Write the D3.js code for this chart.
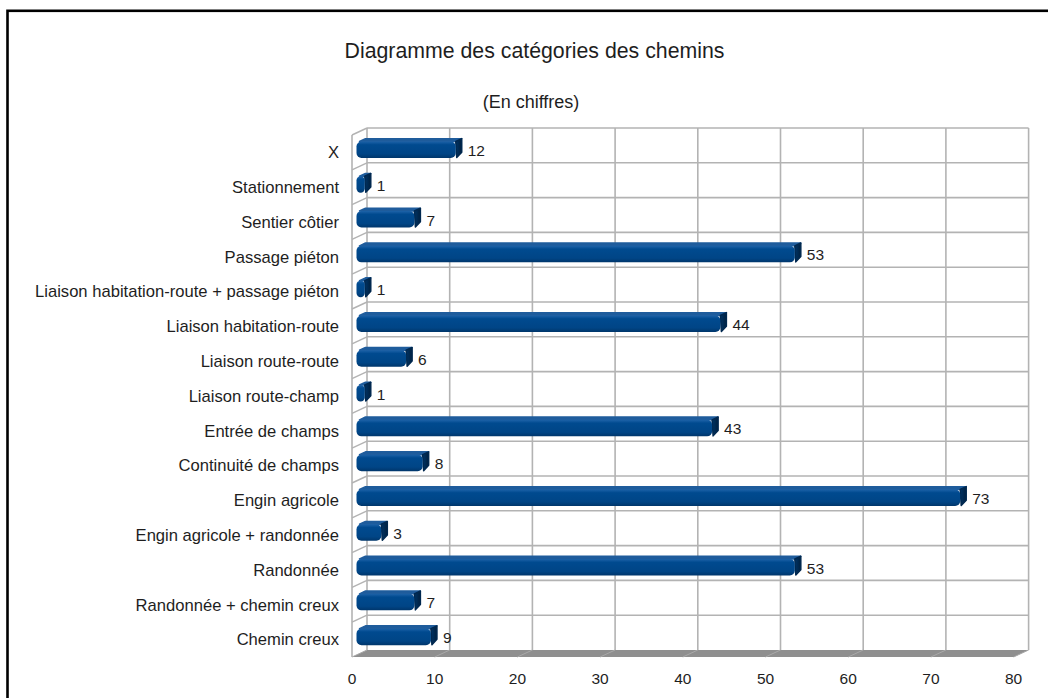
<!DOCTYPE html>
<html>
<head>
<meta charset="utf-8">
<script src="https://cdn.jsdelivr.net/npm/d3@7"></script>
<style>
  body { margin: 0; background: #fff; }
  text { font-family: 'Liberation Sans', Arial, sans-serif; fill: #1e1e1e; }
</style>
</head>
<body>
<svg id="chart"></svg>
<script>
// chart data
const categories = [
  'X',
  'Stationnement',
  'Sentier côtier',
  'Passage piéton',
  'Liaison habitation-route + passage piéton',
  'Liaison habitation-route',
  'Liaison route-route',
  'Liaison route-champ',
  'Entrée de champs',
  'Continuité de champs',
  'Engin agricole',
  'Engin agricole + randonnée',
  'Randonnée',
  'Randonnée + chemin creux',
  'Chemin creux'
];
const counts = [12, 1, 7, 53, 1, 44, 6, 1, 43, 8, 73, 3, 53, 7, 9];
const xTicks = [0, 10, 20, 30, 40, 50, 60, 70, 80];

const width = 1048;
const height = 698;

// back wall of the 3d box
const wall = { left: 367, right: 1028.6, top: 128, bottom: 650 };
// shift from back wall to front edge
const depth = { dx: -15, dy: 7 };

const svg = d3.select('#chart')
              .attr('width', width)
              .attr('height', height);

const x = d3.scaleLinear()
            .domain([0, 80])
            .range([wall.left, wall.right]);

const y = d3.scaleBand()
            .domain(categories)
            .range([wall.top, wall.bottom]);

// d = 0 front, d = 1 back
function proj(px, py, d) {
  return [px + depth.dx * (1 - d), py + depth.dy * (1 - d)];
}

function poly(pts) {
  return 'M' + pts.map(p => p.join(',')).join('L') + 'Z';
}

const defs = svg.append('defs');
const grad = defs.append('linearGradient')
                 .attr('id', 'barFront')
                 .attr('x1', 0).attr('y1', 0)
                 .attr('x2', 0).attr('y2', 1);
grad.append('stop').attr('offset', '0%').attr('stop-color', '#1d62a8');
grad.append('stop').attr('offset', '20%').attr('stop-color', '#004a8f');
grad.append('stop').attr('offset', '75%').attr('stop-color', '#004586');
grad.append('stop').attr('offset', '100%').attr('stop-color', '#00366b');

const capGrad = defs.append('linearGradient')
                    .attr('id', 'barCap')
                    .attr('x1', 0).attr('y1', 0)
                    .attr('x2', 1).attr('y2', 0);
capGrad.append('stop').attr('offset', '0%').attr('stop-color', '#003466');
capGrad.append('stop').attr('offset', '100%').attr('stop-color', '#00203f');

// outer frame
svg.append('rect')
   .attr('x', 7.5)
   .attr('y', 10.8)
   .attr('width', 1200)
   .attr('height', 900)
   .attr('fill', '#fff')
   .attr('stroke', '#000')
   .attr('stroke-width', 2.6);

drawTitles();
drawBox();
drawBars();
drawLabels();

function drawTitles() {
  svg.append('text')
     .attr('x', 534.5)
     .attr('y', 58)
     .attr('text-anchor', 'middle')
     .style('font-size', '21.3px')
     .text('Diagramme des catégories des chemins');

  svg.append('text')
     .attr('x', 531)
     .attr('y', 108)
     .attr('text-anchor', 'middle')
     .style('font-size', '18px')
     .text('(En chiffres)');
}

function drawBox() {
  const g = svg.append('g').attr('id', 'box');
  const gridColor = '#b3b3b3';
  const rowLines = categories.map(c => y(c)).concat([wall.bottom]);

  // floor
  g.append('path')
   .attr('d', poly([proj(x(0), wall.bottom, 1), proj(x(80), wall.bottom, 1),
                    proj(x(80), wall.bottom, 0), proj(x(0), wall.bottom, 0)]))
   .attr('fill', '#8f8f8f');

  g.selectAll('.floor-line')
   .data(xTicks)
   .enter()
   .append('line')
   .attr('class', 'floor-line')
   .attr('x1', d => proj(x(d), wall.bottom, 1)[0])
   .attr('y1', wall.bottom)
   .attr('x2', d => proj(x(d), wall.bottom, 0)[0])
   .attr('y2', d => proj(x(d), wall.bottom, 0)[1])
   .attr('stroke', '#a9a9a9')
   .attr('stroke-width', 1);

  // back wall, vertical lines
  g.selectAll('.v-grid')
   .data(xTicks)
   .enter()
   .append('line')
   .attr('class', 'v-grid')
   .attr('x1', d => x(d))
   .attr('x2', d => x(d))
   .attr('y1', wall.top)
   .attr('y2', wall.bottom)
   .attr('stroke', gridColor)
   .attr('stroke-width', 1.6);

  // back wall, horizontal lines
  g.selectAll('.h-grid')
   .data(rowLines.slice(0, -1))
   .enter()
   .append('line')
   .attr('class', 'h-grid')
   .attr('x1', wall.left)
   .attr('x2', wall.right)
   .attr('y1', d => d)
   .attr('y2', d => d)
   .attr('stroke', gridColor)
   .attr('stroke-width', 1.6);

  // left wall
  g.selectAll('.side-grid')
   .data(rowLines.slice(0, -1))
   .enter()
   .append('line')
   .attr('class', 'side-grid')
   .attr('x1', wall.left)
   .attr('y1', d => d)
   .attr('x2', d => proj(wall.left, d, 0)[0])
   .attr('y2', d => proj(wall.left, d, 0)[1])
   .attr('stroke', gridColor)
   .attr('stroke-width', 1.4);

  const fl = proj(wall.left, wall.top, 0);
  g.append('line')
   .attr('x1', fl[0]).attr('x2', fl[0])
   .attr('y1', fl[1])
   .attr('y2', proj(wall.left, wall.bottom, 0)[1])
   .attr('stroke', gridColor)
   .attr('stroke-width', 1.6);
}

function drawBars() {
  const a = 0.3;
  const b = 0.7;
  const h = 16.5;
  const g = svg.append('g').attr('id', 'bars');

  const bars = g.selectAll('.bar')
                .data(categories.map((c, i) => ({ name: c, value: counts[i] })))
                .enter()
                .append('g')
                .attr('class', 'bar');

  bars.each(function(d) {
    const bar = d3.select(this);
    const cy = y(d.name) + y.bandwidth() / 2 - 0.6;
    const x0 = x(0);
    const x1 = x(d.value);

    const ftl = proj(x0, cy - h / 2, a);
    const ftr = proj(x1, cy - h / 2, a);
    const fbr = proj(x1, cy + h / 2, a);
    const btl = proj(x0, cy - h / 2, b);
    const btr = proj(x1, cy - h / 2, b);
    const bbr = proj(x1, cy + h / 2, b);

    // top face
    bar.append('path')
       .attr('d', poly([[ftl[0] + 3, ftl[1]], ftr, btr, [btl[0] + 3, btl[1]]]))
       .attr('fill', '#1f5c9c')
       .attr('stroke', '#1f5c9c')
       .attr('stroke-width', 1.5)
       .attr('stroke-linejoin', 'round');

    // right end
    bar.append('path')
       .attr('d', poly([ftr, btr, [bbr[0], bbr[1] - 3], [fbr[0] + 1, fbr[1] - 0.5]]))
       .attr('fill', 'url(#barCap)')
       .attr('stroke', '#00284f')
       .attr('stroke-width', 1.5)
       .attr('stroke-linejoin', 'round');

    // front face
    bar.append('rect')
       .attr('x', ftl[0])
       .attr('y', ftl[1])
       .attr('width', Math.max(ftr[0] - ftl[0], 2))
       .attr('height', h)
       .attr('rx', Math.min(5, Math.max(ftr[0] - ftl[0], 2) / 2))
       .attr('fill', 'url(#barFront)');
  });
}

function drawLabels() {
  // category labels
  svg.append('g')
     .selectAll('text')
     .data(categories)
     .enter()
     .append('text')
     .attr('x', 339)
     .attr('y', d => y(d) + y.bandwidth() / 2 + depth.dy)
     .attr('dy', '0.35em')
     .attr('text-anchor', 'end')
     .style('font-size', '16.6px')
     .text(d => d);

  // value labels
  svg.append('g')
     .selectAll('text')
     .data(counts)
     .enter()
     .append('text')
     .attr('x', d => x(d) + 1.5)
     .attr('y', (d, i) => y(categories[i]) + y.bandwidth() / 2 + depth.dy * 0.7)
     .attr('dy', '0.37em')
     .style('font-size', '15.5px')
     .text(d => d);

  // x tick labels on the front edge
  svg.append('g')
     .selectAll('text')
     .data(xTicks)
     .enter()
     .append('text')
     .attr('x', d => x(d) + depth.dx)
     .attr('y', 684)
     .attr('text-anchor', 'middle')
     .style('font-size', '15.5px')
     .text(d => d);
}
</script>
</body>
</html>
